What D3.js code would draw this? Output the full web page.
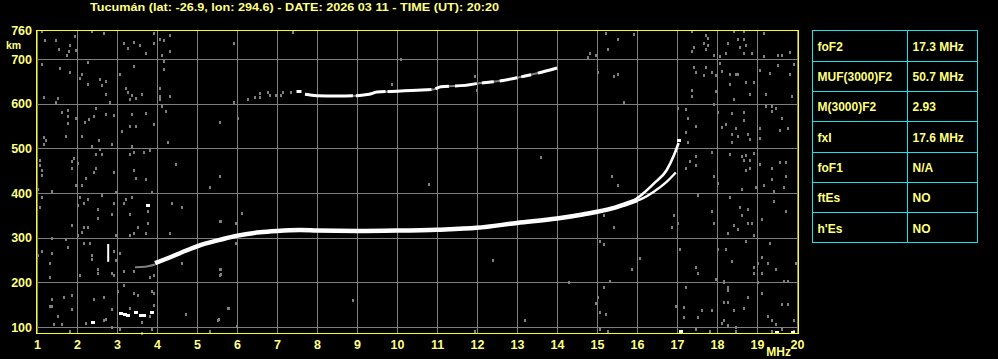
<!DOCTYPE html>
<html>
<head>
<meta charset="utf-8">
<title>Ionogram Tucumán</title>
<style>
  body { margin: 0; background: #000; }
  svg { display: block; }
  text { font-family: "Liberation Sans", Arial, sans-serif; font-weight: bold; fill: #ffff80; }
</style>
</head>
<body>
<svg class="iono"></svg>
<script src="https://cdn.jsdelivr.net/npm/d3@7/dist/d3.min.js"></script>
<script>
const title = "Tucumán (lat: -26.9, lon: 294.6) - DATE: 2026 03 11 - TIME (UT): 20:20"
const freqTicks = d3.range(1, 21)
const heightTicks = [100, 200, 300, 400, 500, 600, 700, 760]
const gridHeights = [100, 200, 300, 400, 500, 600, 700]

const tableParams = ["foF2", "MUF(3000)F2", "M(3000)F2", "fxI", "foF1", "ftEs", "h'Es"]
const tableValues = ["17.3 MHz", "50.7 MHz", "2.93", "17.6 MHz", "N/A", "NO", "NO"]

// echo traces, [MHz, km]
const oTrace = [[3.95, 243], [4.3, 255], [4.64, 268], [5.07, 283], [5.57, 295], [5.98, 304], [6.57, 312],
  [7.0, 315], [7.57, 317], [8.0, 316], [9.0, 315], [10.0, 316], [11.0, 318], [12.0, 322], [13.0, 333],
  [14.0, 343], [14.64, 352], [15.4, 366], [15.74, 376], [16.0, 384]]
const oUpper = [[15.9, 382], [16.14, 398], [16.42, 421], [16.74, 451], [16.92, 484], [17.04, 512]]
const xTrace = [[15.9, 380], [16.14, 388], [16.42, 403], [16.74, 425], [16.97, 446]]
const oLead = [[3.45, 234], [3.7, 235], [3.95, 240]]
const secondHop = [[7.7, 621], [8.0, 618], [8.5, 617], [9.0, 618], [9.3, 621], [9.5, 626],
  [10.0, 628], [10.5, 630], [10.9, 632], [11.1, 638], [11.7, 641], [12.0, 645], [12.5, 650],
  [13.0, 658], [13.5, 668], [14.0, 680]]
const secondHopDots = [[6.28, 610], [6.44, 614], [6.58, 616], [6.58, 623], [6.78, 627], [6.83, 619],
  [6.98, 619], [7.11, 619], [7.15, 627], [7.36, 627], [7.5, 629], [7.6, 629]]
const whiteSpots = [[3.1, 132], [3.2, 130], [3.28, 127], [3.48, 134], [3.6, 128], [3.68, 128], [3.87, 134],
  [2.4, 112], [3.78, 373], [17.04, 519], [17.1, 90], [19.5, 88], [19.9, 88], [7.55, 629]]
const whiteBar = [[2.78, 246], [2.78, 286]]

// scattered interference, [MHz, km]
const noiseLow = [
  [1.13, 762], [1.2, 743], [1.48, 743], [1.83, 731], [1.8, 719], [1.98, 721], [1.95, 751], [2.38, 763],
  [2.68, 759], [1.74, 710], [1.54, 723], [1.13, 689], [1.58, 680], [1.83, 671], [2.07, 657], [2.13, 666],
  [2.28, 693], [2.58, 656], [2.73, 651], [2.63, 641], [2.28, 644], [2.73, 622], [2.83, 604], [2.93, 575],
  [1.18, 616], [1.53, 613], [1.48, 604], [1.78, 586], [1.63, 581], [1.78, 572], [1.78, 557], [1.97, 569],
  [2.2, 559], [2.3, 565], [2.43, 572], [2.48, 590], [2.73, 577], [1.18, 526], [1.23, 519], [1.18, 510],
  [1.73, 528], [2.13, 528], [2.38, 505], [2.55, 519], [2.58, 498], [2.88, 510], [1.08, 474], [1.08, 463],
  [1.13, 451], [1.13, 441], [1.93, 478], [1.88, 471], [2.02, 468], [1.88, 456], [2.48, 456], [2.43, 447],
  [2.23, 434], [2.48, 487], [2.63, 487], [2.93, 447], [3.18, 736], [3.43, 738], [3.28, 725], [3.58, 732],
  [3.73, 714], [3.93, 759], [3.93, 736], [4.08, 744], [4.18, 742], [4.13, 710], [4.33, 754], [4.33, 719],
  [4.18, 695], [4.18, 678], [3.43, 684], [3.08, 666], [3.23, 635], [3.28, 626], [3.38, 620], [3.48, 613],
  [3.63, 622], [3.33, 610], [4.08, 635], [4.08, 617], [4.08, 610], [4.33, 617], [4.13, 595], [4.23, 584],
  [3.38, 578], [3.73, 580], [3.93, 554], [3.13, 539], [3.33, 550], [3.48, 550], [3.38, 505], [3.83, 496],
  [3.68, 492], [3.43, 492], [3.33, 487], [4.28, 514], [3.43, 451], [3.48, 434], [3.73, 432], [4.48, 465],
  [5.57, 439], [5.58, 559], [6.03, 568], [5.93, 736], [5.93, 604],
  [1.03, 410], [1.38, 405], [1.13, 392], [1.08, 369], [1.98, 419], [2.13, 417], [2.08, 392], [2.28, 387],
  [2.18, 378], [2.03, 374], [2.53, 365], [2.63, 396], [2.93, 378], [2.88, 352], [2.53, 343], [1.88, 329],
  [2.18, 325], [2.28, 325], [2.13, 313], [2.03, 307], [2.98, 402], [3.23, 387], [3.38, 392], [3.18, 378],
  [3.88, 402], [3.78, 360], [3.78, 334], [3.53, 325], [3.33, 352], [3.43, 311], [3.73, 311], [3.33, 307],
  [4.38, 378], [4.63, 369], [4.33, 311], [5.33, 414], [5.58, 338], [6.13, 356], [5.98, 334], [1.38, 299],
  [1.73, 298], [1.13, 271], [1.38, 266], [1.78, 280], [2.18, 289], [2.33, 289], [2.38, 262], [2.38, 253],
  [2.53, 231], [2.53, 222], [2.93, 271], [2.98, 250], [3.08, 266], [1.33, 244], [1.33, 213], [1.03, 262],
  [2.08, 217], [2.88, 222], [2.93, 217], [3.18, 226], [3.43, 226], [3.83, 213], [3.93, 217], [4.63, 244],
  [5.58, 231], [5.58, 217], [3.18, 195], [3.03, 181], [3.43, 177], [3.53, 172], [3.88, 180], [3.93, 177],
  [3.93, 149], [1.38, 163], [1.38, 146], [1.33, 147], [1.68, 168], [1.88, 172], [1.88, 141], [1.53, 125],
  [1.43, 107], [1.63, 107], [2.43, 163], [2.68, 168], [2.73, 119], [2.68, 116], [2.88, 140], [2.23, 110],
  [1.83, 92], [2.88, 101], [3.33, 143], [3.63, 111], [3.83, 125], [3.88, 95], [4.73, 129], [5.53, 116],
  [5.78, 143], [6.0, 102], [5.33, 92], [3.08, 96], [3.63, 87], [2.98, 306]
]
const noiseMid = [
  [5.6, 229], [5.6, 219], [5.8, 143], [5.55, 118], [4.73, 129], [5.98, 332], [5.98, 287], [5.6, 338],
  [9.87, 645], [11.94, 662], [12.0, 630], [11.95, 90], [13.2, 116], [7.4, 760], [10.1, 700], [12.4, 250],
  [8.9, 160], [10.8, 420], [13.6, 480], [14.3, 200]
]
const noiseHigh = [
  [15.23, 759], [15.53, 745], [15.93, 756], [15.28, 723], [14.83, 713], [14.98, 710], [14.78, 705],
  [15.03, 672], [15.43, 663], [15.53, 666], [15.68, 604], [17.38, 762], [17.73, 754], [17.78, 747],
  [17.78, 732], [17.68, 735], [17.73, 723], [17.43, 728], [17.38, 719], [17.93, 710], [18.08, 707],
  [18.08, 692], [18.23, 714], [18.28, 736], [18.43, 763], [18.53, 745], [18.68, 763], [18.68, 745],
  [18.58, 728], [18.73, 732], [18.88, 714], [18.68, 714], [19.18, 759], [19.18, 707], [19.53, 710],
  [19.63, 710], [19.83, 716], [17.43, 683], [17.73, 683], [17.68, 665], [17.48, 672], [17.88, 672],
  [17.98, 665], [18.13, 674], [18.33, 666], [18.48, 666], [18.53, 666], [18.33, 644], [18.73, 648],
  [18.93, 648], [19.08, 675], [19.33, 669], [19.53, 687], [19.83, 666], [19.93, 689], [17.38, 630],
  [17.38, 617], [17.98, 628], [18.43, 611], [18.83, 622], [19.23, 622], [19.88, 617], [17.03, 590],
  [17.23, 589], [17.28, 568], [17.48, 550], [17.23, 537], [17.28, 514], [17.93, 599], [18.03, 581],
  [18.38, 580], [18.68, 581], [18.68, 563], [18.23, 554], [18.13, 548], [18.48, 545], [18.38, 532],
  [18.53, 528], [18.78, 532], [18.83, 522], [18.38, 514], [19.08, 545], [19.08, 523], [19.23, 595],
  [19.38, 595], [19.38, 584], [19.48, 590], [19.58, 541], [19.78, 545], [19.63, 568], [16.98, 496],
  [17.48, 483], [17.33, 471], [17.48, 462], [17.23, 456], [17.88, 492], [17.93, 438], [18.33, 487],
  [18.63, 483], [18.73, 486], [18.93, 490], [18.68, 474], [18.83, 474], [18.73, 451], [18.83, 456],
  [19.08, 465], [19.38, 456], [19.58, 469], [19.73, 469], [19.73, 438], [19.38, 432], [15.38, 438],
  [15.53, 419], [15.43, 323], [15.18, 350], [15.08, 293], [15.18, 286], [16.08, 254], [15.88, 231],
  [15.33, 204], [15.18, 190], [15.03, 168], [14.98, 154], [15.08, 134], [15.23, 129], [15.08, 96],
  [15.28, 92], [16.93, 350], [16.88, 325], [17.03, 334], [17.08, 275], [17.23, 190], [16.98, 147],
  [17.18, 145], [17.18, 123], [17.53, 396], [17.53, 222], [17.48, 235], [17.88, 360], [17.93, 334],
  [18.03, 423], [17.98, 208], [18.03, 275], [18.23, 275], [18.38, 248], [18.18, 204], [18.28, 190],
  [18.18, 156], [18.28, 156], [18.43, 329], [18.53, 319], [18.28, 311], [18.33, 392], [18.63, 410],
  [18.58, 369], [18.63, 351], [18.78, 365], [18.88, 334], [18.78, 334], [18.93, 307], [18.73, 293],
  [19.13, 342], [18.98, 414], [19.18, 419], [19.43, 404], [19.43, 383], [19.68, 414], [19.73, 360],
  [19.33, 289], [19.13, 257], [19.03, 244], [19.28, 244], [18.93, 235], [18.93, 222], [19.13, 222],
  [19.48, 231], [19.98, 244], [18.18, 201], [18.28, 183], [19.03, 201], [19.68, 204], [19.78, 204],
  [19.13, 177], [18.78, 168], [18.68, 142], [18.43, 138], [18.18, 116], [18.28, 105], [18.48, 101],
  [18.13, 108], [19.28, 125], [19.63, 152], [19.78, 152], [19.38, 116], [19.48, 107], [19.93, 116],
  [17.53, 123], [17.63, 139], [17.88, 139], [17.48, 95], [17.83, 92], [18.48, 92], [17.08, 92],
  [19.38, 90], [19.63, 96], [19.93, 90]
]

const width = 998, height = 359
const frame = { left: 37, right: 797, top: 30, bottom: 333 }

const svg = d3.select(".iono")
  .attr("width", width)
  .attr("height", height)
  .style("background", "#000")

const x = d3.scaleLinear().domain([1, 20]).range([frame.left, frame.right])
const y = d3.scaleLinear().domain([86.6, 765]).range([frame.bottom, frame.top])

// title
svg.append("text")
  .attr("x", 90).attr("y", 11)
  .attr("textLength", 409).attr("lengthAdjust", "spacingAndGlyphs")
  .style("font-size", "11px")
  .text(title)

// grid
svg.append("g")
  .attr("transform", `translate(0,${frame.bottom})`)
  .call(d3.axisBottom(x).tickValues(freqTicks).tickSize(-(frame.bottom - frame.top)).tickFormat(""))
  .call(g => g.select(".domain").remove())
  .call(g => g.selectAll("line").attr("stroke", "#7f7f7f").attr("shape-rendering", "crispEdges"))

svg.append("g")
  .attr("transform", `translate(${frame.left},0)`)
  .call(d3.axisLeft(y).tickValues(gridHeights).tickSize(-(frame.right - frame.left)).tickFormat(""))
  .call(g => g.select(".domain").remove())
  .call(g => g.selectAll("line").attr("stroke", "#7f7f7f").attr("shape-rendering", "crispEdges"))

// interference dots
const dots = svg.append("g")
dots.selectAll("rect")
  .data(noiseLow.concat(noiseMid, noiseHigh, secondHopDots))
  .enter()
  .append("rect")
  .attr("x", d => Math.round(x(d[0])) - 1)
  .attr("y", d => Math.round(y(d[1])) - 1)
  .attr("width", 2)
  .attr("height", 3)
  .attr("fill", "#808080")

// echo traces
const line = d3.line().x(d => x(d[0])).y(d => y(d[1])).curve(d3.curveMonotoneX)

svg.append("path").datum(oLead).attr("d", line)
  .attr("fill", "none").attr("stroke", "#808080").attr("stroke-width", 2)
svg.append("path").datum(oTrace).attr("d", line)
  .attr("fill", "none").attr("stroke", "#fff").attr("stroke-width", 4.5)
svg.append("path").datum(oUpper).attr("d", line)
  .attr("fill", "none").attr("stroke", "#fff").attr("stroke-width", 2.6)
svg.append("path").datum(xTrace).attr("d", line)
  .attr("fill", "none").attr("stroke", "#fff").attr("stroke-width", 2.4)

// second hop: faint underlay with broken white echo on top
svg.append("path").datum(secondHop).attr("d", line)
  .attr("fill", "none").attr("stroke", "#808080").attr("stroke-width", 2)
svg.append("path").datum(secondHop).attr("d", line)
  .attr("fill", "none").attr("stroke", "#fff").attr("stroke-width", 3)
  .attr("stroke-dasharray", "48 3 30 2 44 4 14 6 22 5 12 6 18 4 10 7 24")

svg.append("line")
  .attr("x1", x(whiteBar[0][0])).attr("x2", x(whiteBar[1][0]))
  .attr("y1", y(whiteBar[0][1])).attr("y2", y(whiteBar[1][1]))
  .attr("stroke", "#fff").attr("stroke-width", 2)

svg.append("g").selectAll("rect")
  .data(whiteSpots)
  .enter()
  .append("rect")
  .attr("x", d => Math.round(x(d[0])) - 2)
  .attr("y", d => Math.round(y(d[1])) - 1)
  .attr("width", 4)
  .attr("height", 3)
  .attr("fill", "#fff")

// frame
svg.append("rect")
  .attr("x", 36.5).attr("y", 30.5)
  .attr("width", 762).attr("height", 303)
  .attr("fill", "none").attr("stroke", "#ffff00").attr("stroke-width", 1)

// axis labels
svg.append("g")
  .attr("transform", `translate(0,${frame.bottom})`)
  .call(d3.axisBottom(x).tickValues(freqTicks).tickSize(0).tickPadding(7).tickFormat(d3.format("d")))
  .call(g => g.select(".domain").remove())
  .call(g => g.selectAll("text").attr("fill", "#ffff80")
    .style("font-size", "12.5px").style("font-family", "'Liberation Sans', Arial, sans-serif")
    .style("font-weight", "bold"))

svg.append("g")
  .attr("transform", `translate(${frame.left},0)`)
  .call(d3.axisLeft(y).tickValues(heightTicks).tickSize(0).tickPadding(5).tickFormat(d3.format("d")))
  .call(g => g.select(".domain").remove())
  .call(g => g.selectAll("text").attr("fill", "#ffff80")
    .style("font-size", "12.5px").style("font-family", "'Liberation Sans', Arial, sans-serif")
    .style("font-weight", "bold")
    .attr("dy", d => d === 760 ? "0.22em" : "0.32em"))

svg.append("text").attr("x", 6).attr("y", 48.5).style("font-size", "10.5px").text("km")
svg.append("text").attr("x", 791).attr("y", 356).attr("text-anchor", "end")
  .style("font-size", "12px").text("MHz")

// parameter table
const tbl = { left: 812.5, mid: 907.5, right: 977.5, top: 30.5, bottom: 242.5 }
const rowScale = d3.scaleBand().domain(tableParams).range([tbl.top, tbl.bottom])
const table = svg.append("g")

table.append("rect")
  .attr("x", tbl.left).attr("y", tbl.top)
  .attr("width", tbl.right - tbl.left).attr("height", tbl.bottom - tbl.top)
  .attr("fill", "none").attr("stroke", "#1ee0e8")
table.append("line")
  .attr("x1", tbl.mid).attr("x2", tbl.mid).attr("y1", tbl.top).attr("y2", tbl.bottom)
  .attr("stroke", "#1ee0e8")
table.selectAll(".sep")
  .data(tableParams.slice(1))
  .enter()
  .append("line")
  .attr("x1", tbl.left).attr("x2", tbl.right)
  .attr("y1", d => Math.round(rowScale(d)) + 0.5).attr("y2", d => Math.round(rowScale(d)) + 0.5)
  .attr("stroke", "#1ee0e8")

table.selectAll(".pname")
  .data(tableParams)
  .enter()
  .append("text")
  .attr("x", tbl.left + 5)
  .attr("y", d => rowScale(d) + 20.3)
  .style("font-size", "12px")
  .text(d => d)

table.selectAll(".pval")
  .data(tableValues)
  .enter()
  .append("text")
  .attr("x", tbl.mid + 5)
  .attr("y", (d, i) => rowScale(tableParams[i]) + 20.3)
  .style("font-size", "12px")
  .text(d => d)
</script>
</body>
</html>
